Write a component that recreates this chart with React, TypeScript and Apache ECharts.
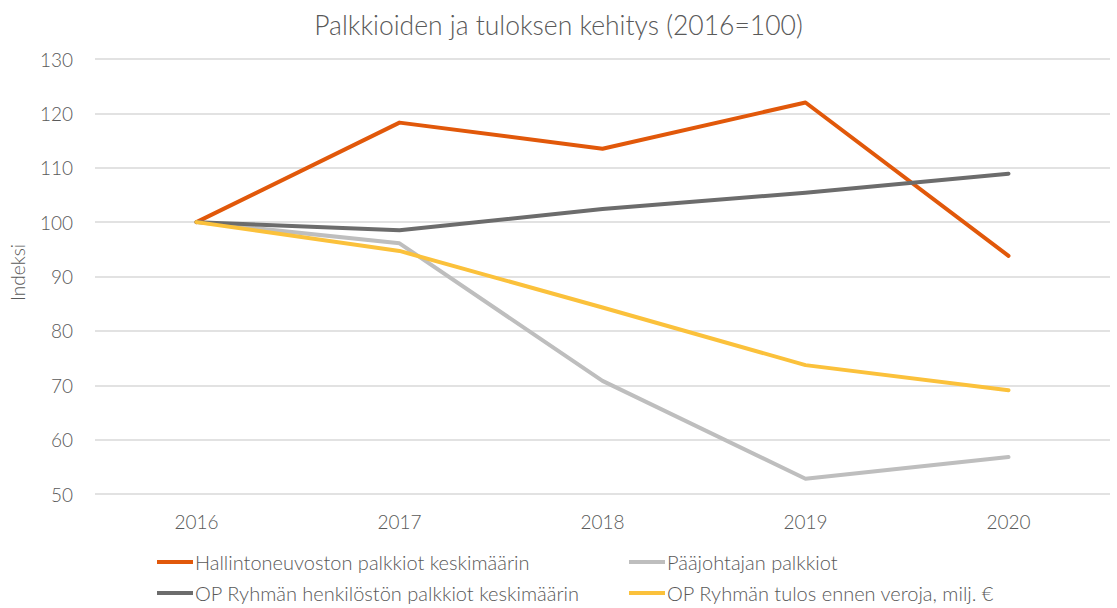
import React, { useEffect, useRef } from "react";
import * as echarts from "echarts";

const years = ["2016", "2017", "2018", "2019", "2020"];
const hallinto = [100, 118.3, 113.5, 122.0, 93.8];
const paajohtaja = [100, 96.1, 70.8, 52.8, 56.8];
const henkilosto = [100, 98.5, 102.4, 105.4, 108.9];
const tulos = [100, 94.7, 84.3, 73.7, 69.1];

const seriesNames = [
  "Hallintoneuvoston palkkiot keskimäärin",
  "Pääjohtajan palkkiot",
  "OP Ryhmän henkilöstön palkkiot keskimäärin",
  "OP Ryhmän tulos ennen veroja, milj. €",
];
const colors = ["#E1580A", "#BEBEBE", "#6C6C6C", "#FBC13B"];
const FONT = "Lato";

export default function App() {
  const ref = useRef<HTMLDivElement>(null);
  useEffect(() => {
    document.body.style.margin = "0";
    const chart = echarts.init(ref.current!, undefined, { renderer: "svg" });
    const values = [hallinto, paajohtaja, henkilosto, tulos];
    const legendPos = [
      { left: 157, top: 552 },
      { left: 629, top: 552 },
      { left: 157, top: 583 },
      { left: 629, top: 583 },
    ];
    chart.setOption({
      animation: false,
      color: colors,
      title: {
        text: "Palkkioiden ja tuloksen kehitys (2016=100)",
        left: "center",
        top: 6,
        textStyle: { fontFamily: FONT, fontWeight: 300, fontSize: 26.5, color: "#595959" },
      },
      legend: legendPos.map((p, i) => ({
        left: p.left,
        top: p.top,
        data: [seriesNames[i]],
        icon: "rect",
        itemWidth: 36,
        itemHeight: 4,
        padding: 0,
        textStyle: { fontFamily: FONT, fontWeight: 300, fontSize: 20, color: "#595959", padding: [0, 0, 0, -3] },
      })),
      grid: { left: 95, right: 7, top: 59, bottom: 114 },
      xAxis: {
        type: "category",
        data: years,
        boundaryGap: true,
        axisLine: { show: false },
        axisTick: { show: false },
        axisLabel: { fontFamily: FONT, fontWeight: 300, fontSize: 19, color: "#595959", margin: 18 },
      },
      yAxis: {
        type: "value",
        min: 50,
        max: 130,
        interval: 10,
        name: "Indeksi",
        nameLocation: "middle",
        nameGap: 68,
        nameTextStyle: { fontFamily: FONT, fontWeight: 300, fontSize: 19, color: "#595959", padding: [0, 0, 0, 8] },
        axisLine: { show: false },
        axisTick: { show: false },
        axisLabel: { fontFamily: FONT, fontWeight: 300, fontSize: 19, color: "#595959", margin: 22 },
        splitLine: { lineStyle: { color: "#D9D9D9", width: 1.5 } },
      },
      series: seriesNames.map((n, i) => ({
        name: n,
        type: "line",
        data: values[i],
        symbol: "none",
        lineStyle: { width: 4, color: colors[i], cap: "round", join: "round" },
        itemStyle: { color: colors[i] },
      })),
    });
    return () => chart.dispose();
  }, []);
  return <div ref={ref} style={{ width: 1117, height: 608 }} />;
}
